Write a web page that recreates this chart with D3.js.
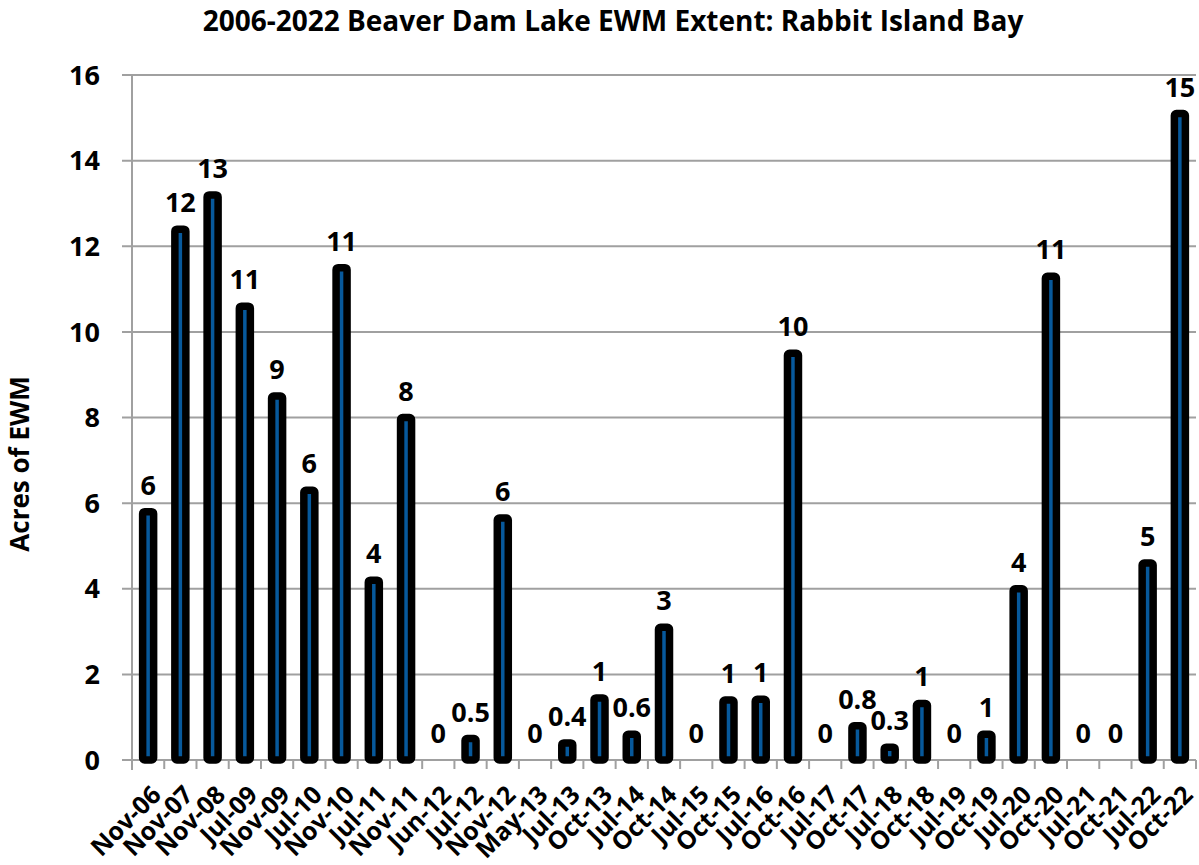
<!DOCTYPE html>
<html><head><meta charset="utf-8">
<script src="https://cdn.jsdelivr.net/npm/d3@7"></script>
<style>body{margin:0;background:#fff}svg{display:block}text{font-family:"Open Sans",sans-serif;font-weight:700;fill:#000}</style>
</head><body><svg id="c" width="1199" height="865"></svg>
<script>
const categories = ["Nov-06","Nov-07","Nov-08","Jul-09","Nov-09","Jul-10","Nov-10","Jul-11","Nov-11","Jun-12","Jul-12","Nov-12","May-13","Jul-13","Oct-13","Jul-14","Oct-14","Jul-15","Oct-15","Jul-16","Oct-16","Jul-17","Oct-17","Jul-18","Oct-18","Jul-19","Oct-19","Jul-20","Oct-20","Jul-21","Oct-21","Jul-22","Oct-22"];
const values = [5.8,12.4,13.2,10.6,8.5,6.3,11.5,4.2,8.0,0,0.5,5.65,0,0.4,1.45,0.6,3.1,0,1.4,1.42,9.5,0,0.8,0.3,1.32,0,0.6,4.0,11.3,0,0,4.6,15.1];
const valueLabels = ["6","12","13","11","9","6","11","4","8","0","0.5","6","0","0.4","1","0.6","3","0","1","1","10","0","0.8","0.3","1","0","1","4","11","0","0","5","15"];
const yTicks = [0,2,4,6,8,10,12,14,16];
const title = "2006-2022 Beaver Dam Lake EWM Extent: Rabbit Island Bay";
const yTitle = "Acres of EWM";

const svg = d3.select("#c");
const L = 132, R = 1196, T = 75, B = 760;
const x = d3.scaleBand().domain(categories).range([L, R]).paddingInner(0).paddingOuter(0);
const y = d3.scaleLinear().domain([0,16]).range([B, T]);
const grid = "#a0a0a0";

// gridlines
svg.append("g").selectAll("line").data(yTicks).join("line")
  .attr("x1", L-10).attr("x2", R).attr("y1", d=>y(d)).attr("y2", d=>y(d))
  .attr("stroke", grid).attr("stroke-width", 2);
// y axis line
svg.append("line").attr("x1", L).attr("x2", L).attr("y1", T).attr("y2", B+10)
  .attr("stroke", grid).attr("stroke-width", 2);
// x ticks
const bounds = categories.map(c=>x(c)).concat([R]);
svg.append("g").selectAll("line").data(bounds).join("line")
  .attr("x1", d=>d).attr("x2", d=>d).attr("y1", B).attr("y2", B+9)
  .attr("stroke", grid).attr("stroke-width", 2);

// y tick labels
svg.append("g").selectAll("text").data(yTicks).join("text")
  .attr("x", L-32).attr("y", d=>y(d)).attr("dy", "0.36em")
  .attr("text-anchor","end").style("font-size","27px").text(d=>d);

// bars
const bw = 11;
svg.append("g").selectAll("rect").data(values.map((v,i)=>({c:categories[i],v})).filter(d=>d.v>0)).join("rect")
  .attr("x", d=>x(d.c)+x.bandwidth()/2-bw/2)
  .attr("width", bw)
  .attr("y", d=>y(d.v))
  .attr("height", d=>y(0)-y(d.v))
  .attr("rx", 2)
  .attr("fill", "#07599c").attr("stroke","#000").attr("stroke-width",7.5)
  .attr("stroke-linejoin","round");

// value labels
svg.append("g").selectAll("text").data(values).join("text")
  .attr("x", (d,i)=>x(categories[i])+x.bandwidth()/2)
  .attr("y", d=>y(d)-17)
  .attr("text-anchor","middle").style("font-size","27px")
  .text((d,i)=>valueLabels[i]);

// x labels
svg.append("g").selectAll("text").data(categories).join("text")
  .attr("transform", d=>`translate(${x(d)+x.bandwidth()/2+2},${B+24}) rotate(-45)`)
  .attr("text-anchor","end").attr("dy","0.7em")
  .style("font-size","25px").text(d=>d);

// title
svg.append("text").attr("x", 613).attr("y", 31).attr("text-anchor","middle")
  .style("font-size","28px").text(title);
// y title
svg.append("text").attr("transform","translate(29,464) rotate(-90)")
  .attr("text-anchor","middle").style("font-size","26px").text(yTitle);
</script></body></html>
